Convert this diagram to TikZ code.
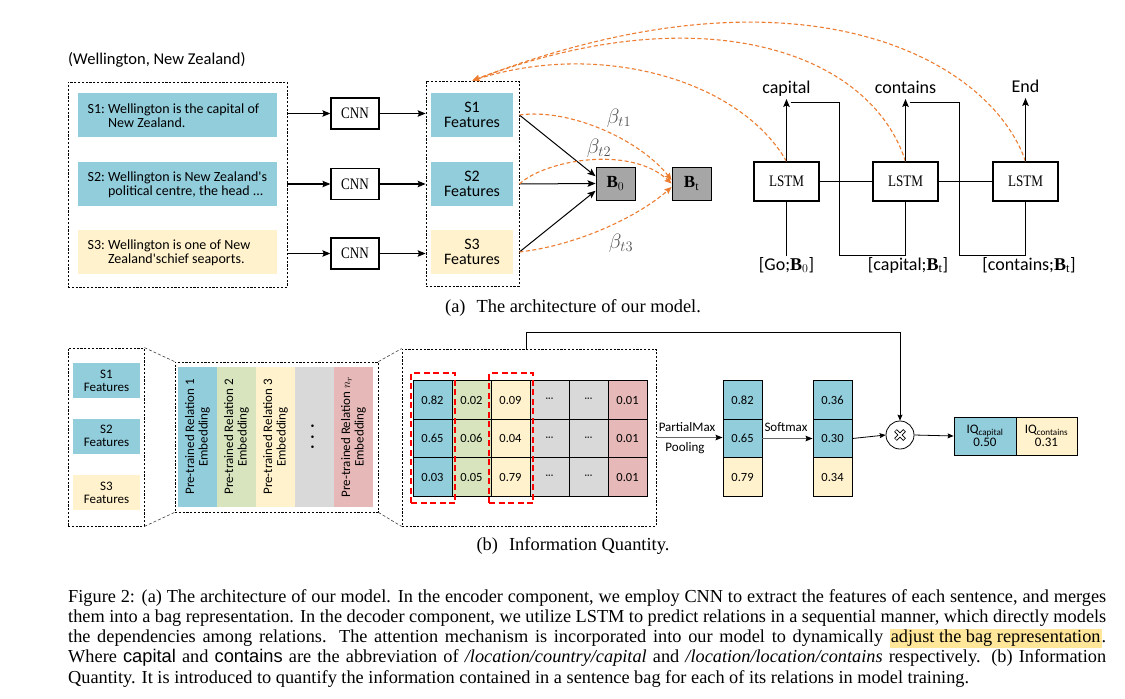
\documentclass[tikz,border=0pt]{standalone}
\usepackage{fontspec}
\setmainfont{Liberation Serif}
\newfontfamily\calfont{Carlito}
\newfontfamily\cnnfont[FakeStretch=0.82]{Liberation Serif}
\newfontfamily\helvfont{Liberation Sans}
\usetikzlibrary{arrows.meta}
\definecolor{cblue}{HTML}{92CDDC}
\definecolor{cyellow}{HTML}{FFF2CC}
\definecolor{cgreen}{HTML}{D7E4BD}
\definecolor{cgray}{HTML}{D9D9D9}
\definecolor{cpink}{HTML}{E6B9B8}
\definecolor{corange}{HTML}{ED7D31}
\definecolor{cred}{HTML}{FF0000}
\definecolor{bgray}{HTML}{A6A6A6}
\definecolor{hlyellow}{HTML}{FFE699}
\definecolor{betagray}{HTML}{505050}
\newcommand{\fsz}[2]{\fontsize{#1}{#2}\selectfont}
\newcommand{\mdts}{{\fsz{10}{10}\textperiodcentered\textperiodcentered\textperiodcentered}}
\tikzset{
 dbox/.style={draw, dash pattern=on 2.2pt off 1.6pt, line width=0.8pt, inner sep=0pt},
 sbox/.style={inner sep=0pt, minimum width=199pt, minimum height=44pt},
 stext/.style={anchor=west, inner sep=0pt, align=left, font=\calfont\frenchspacing\fsz{14}{14}},
 feat/.style={inner sep=0pt, minimum width=82pt, minimum height=44pt, align=center, font=\calfont\fsz{16}{14.5}},
 cnnbox/.style={draw, line width=1.3pt, minimum width=48pt, minimum height=31pt, inner sep=0pt, font=\cnnfont\fsz{16}{18}},
 lstmbox/.style={cnnbox, minimum width=65pt, minimum height=39pt},
 bbox/.style={draw, line width=0.9pt, fill=bgray, minimum width=39pt, minimum height=33pt, inner sep=0pt, font=\fsz{17}{18}},
 arr/.style={line width=1.2pt, -{Stealth[length=8pt,width=6.5pt,inset=1.5pt]}},
 farr/.style={line width=1pt, -{Stealth[length=8pt,width=6.5pt,inset=1.5pt]}},
 thickl/.style={line width=1.3pt},
 thinl/.style={line width=0.7pt},
 orng/.style={corange, line width=1.1pt, dash pattern=on 4pt off 2.5pt, -{Stealth[length=7pt,width=6pt,inset=1pt]}},
 lab/.style={inner sep=1pt, font=\calfont\fsz{18}{20}},
 betalab/.style={text=betagray, inner sep=0pt, font=\fsz{21}{22}},
 bfeat/.style={inner sep=0pt, minimum width=67pt, minimum height=35pt, align=center, font=\calfont\fsz{13}{13}},
 emb/.style={rotate=90, inner sep=0pt, minimum width=140pt, minimum height=39pt, align=center, font=\calfont\fsz{13}{13.5}},
 cell/.style={draw, line width=0.8pt, minimum width=39pt, minimum height=38.5pt, inner sep=0pt, font=\calfont\fsz{12.5}{14}},
 reddash/.style={draw=cred, line width=1.3pt, dash pattern=on 6pt off 3.5pt, minimum width=44pt, minimum height=130pt, inner sep=0pt},
 trap/.style={line width=0.6pt, dash pattern=on 3pt off 2pt, black!75},
 sarr/.style={line width=0.8pt, -{Stealth[length=6pt,width=5pt,inset=1pt]}},
 garr/.style={line width=1.1pt, black!60, -{Stealth[length=7pt,width=5.5pt,inset=1pt, black]}},
 slab/.style={inner sep=0pt, font=\calfont\fsz{13}{14}},
 iqbox/.style={draw, line width=0.8pt, minimum height=38pt, inner sep=0pt, align=center, font=\calfont\fsz{13}{13}},
 subcap/.style={anchor=base, inner sep=0pt, font=\fsz{18.4}{20}},
}
\begin{document}
\begin{tikzpicture}[x=1pt,y=-1pt]
\fill[white] (0,0) rectangle (1125,699);
\useasboundingbox (0,0) rectangle (1125,699);

% ---------------- (a) encoder ----------------
\node[anchor=west, inner sep=0pt, font=\calfont\fsz{16.5}{18}] (title) at (68,60) {(Wellington, New Zealand)};
\node[dbox, minimum width=219pt, minimum height=205pt] (bag) at (177.5,184.5) {};
\node[sbox, fill=cblue] (s1) at (177.5,115) {};
\node[sbox, fill=cblue] (s2) at (177.5,184) {};
\node[sbox, fill=cyellow] (s3) at (177.5,252) {};
\node[stext] (s1t) at (87.5,116) {S1: Wellington is the capital of\\\phantom{S1: }New Zealand.};
\node[stext] (s2t) at (87.5,185) {S2: Wellington is New Zealand\textquotesingle s\\\phantom{S2: }political centre, the head ...};
\node[stext] (s3t) at (87.5,253) {S3: Wellington is one of New\\\phantom{S3: }Zealand\textquotesingle schief seaports.};

\node[cnnbox] (c1) at (355,113.5) {CNN};
\node[cnnbox] (c2) at (355,184) {CNN};
\node[cnnbox] (c3) at (355,253.5) {CNN};

\node[dbox, minimum width=93pt, minimum height=205pt] (fbox) at (472.5,183.5) {};
\node[feat, fill=cblue] (f1) at (472,115) {S1\\Features};
\node[feat, fill=cblue] (f2) at (472,184) {S2\\Features};
\node[feat, fill=cyellow] (f3) at (472,252) {S3\\Features};

\node[bbox] (b0) at (615.5,183.5) {$\mathbf{B}_0$};
\node[bbox] (bt) at (691.5,183.5) {$\mathbf{B}_{\mathrm{t}}$};

\foreach \i in {1,2,3} {
  \draw[arr] (bag.east |- c\i.west) -- (c\i.west);
  \draw[arr] (c\i.east) -- (fbox.west |- c\i.east);
}
\draw[farr] (fbox.east |- f1.east) -- (b0.160);
\draw[farr] (fbox.east |- f2.east) -- (b0.west);
\draw[farr] (fbox.east |- f3.east) -- (b0.200);

\draw[orng] (fbox.east |- f1.east) .. controls (570,108) and (640,140) .. (bt.170);
\draw[orng] (fbox.east |- f2.east) .. controls (545,160) and (630,145) .. (bt.west);
\draw[orng] (fbox.east |- f3.east) .. controls (580,245) and (640,215) .. (bt.190);

\node[betalab] (beta1) at (619,118) {$\beta_{t1}$};
\node[betalab] (beta2) at (599,148) {$\beta_{t2}$};
\node[betalab] (beta3) at (621,243) {$\beta_{t3}$};

% ---------------- (a) decoder ----------------
\node[lstmbox] (l1) at (786.5,181.5) {LSTM};
\node[lstmbox] (l2) at (905.5,181.5) {LSTM};
\node[lstmbox] (l3) at (1025.5,181.5) {LSTM};

\node[lab, anchor=south, text depth=4pt] (o1) at (786.5,99) {capital};
\node[lab, anchor=south, text depth=4pt] (o2) at (905.5,99) {contains};
\node[lab, anchor=south, text depth=4pt] (o3) at (1025.5,98) {End};

\node[lab, anchor=north] (i1) at (786.5,256) {[Go;$\mathbf{B}_0$]};
\node[lab, anchor=north] (i2) at (908,256) {[capital;$\mathbf{B}_{\mathrm{t}}$]};
\node[lab, anchor=north] (i3) at (1029,256) {[contains;$\mathbf{B}_{\mathrm{t}}$]};

\draw[orng] (l1.north) .. controls (740,80) and (600,40) .. (fbox.north);
\draw[orng] (l2.north) .. controls (870,50) and (700,-5) .. (fbox.north);
\draw[orng] (l3.north) .. controls (990,58) and (800,-45) .. (fbox.north);

\draw[arr] (l1.north) -- (o1.south);
\draw[arr] (l2.north) -- (o2.south);
\draw[arr] (l3.north) -- (o3.south);
\draw[thickl] (l1.east) -- (l2.west);
\draw[thickl] (l2.east) -- (l3.west);
\draw[thickl] (l1.south) -- (i1.north);
\coordinate (k1) at (839,255);
\coordinate (k2) at (959,255);
\draw[thickl] (l2.south) -- (l2.south |- k1);
\draw[thickl] (l3.south) -- (l3.south |- k2);
\draw[thinl] (o1.south) ++(4,3) -| (k1) -- (l2.south |- k1);
\draw[thinl] (o2.south) ++(4,3) -| (k2) -- (l3.south |- k2);

\node[subcap] (capa) at (573,312) {(a)\hspace{0.6em}The architecture of our model.};

% ---------------- (b) ----------------
\node[dbox, minimum width=76pt, minimum height=178pt] (lb) at (106,437) {};
\node[bfeat, fill=cblue] (g1) at (106.5,380.5) {S1\\Features};
\node[bfeat, fill=cblue] (g2) at (106.5,436) {S2\\Features};
\node[bfeat, fill=cyellow] (g3) at (106.5,492.5) {S3\\Features};

\node[dbox, minimum width=203pt, minimum height=150pt] (eb) at (276.5,437) {};
\node[emb, fill=cblue] (e1) at (197.5,437) {Pre-trained Relation 1\\Embedding};
\node[emb, fill=cgreen] (e2) at (236.5,437) {Pre-trained Relation 2\\Embedding};
\node[emb, fill=cyellow] (e3) at (275.5,437) {Pre-trained Relation 3\\Embedding};
\node[emb, fill=cgray] (e4) at (314.5,437) {{\fsz{18}{18}\textperiodcentered\,\,\textperiodcentered\,\,\textperiodcentered}};
\node[emb, fill=cpink] (e5) at (353.5,437) {Pre-trained Relation $n_r$\\Embedding};

\node[dbox, minimum width=254pt, minimum height=177pt] (mb) at (529,437.5) {};

\draw[trap] (lb.north east) -- (eb.north west);
\draw[trap] (lb.south east) -- (eb.south west);
\draw[trap] (eb.north east) -- (mb.north west);
\draw[trap] (eb.south east) -- (mb.south west);

\foreach \c/\col/\a/\b/\d in {1/cblue/0.82/0.65/0.03, 2/cgreen/0.02/0.06/0.05, 3/cyellow/0.09/0.04/0.79, 4/cgray/\mdts/\mdts/\mdts, 5/cgray/\mdts/\mdts/\mdts, 6/cpink/0.01/0.01/0.01} {
  \node[cell, fill=\col] (m1\c) at ({393.5+39*\c},400) {\a};
  \node[cell, fill=\col] (m2\c) at ({393.5+39*\c},438.5) {\b};
  \node[cell, fill=\col] (m3\c) at ({393.5+39*\c},477) {\d};
}
\node[reddash] (rd1) at (433,438) {};
\node[reddash] (rd2) at (511,438) {};

\foreach \i/\col/\v/\w in {1/cblue/0.82/0.36, 2/cblue/0.65/0.30, 3/cyellow/0.79/0.34} {
  \node[cell, fill=\col] (p\i) at (742.5,{361.5+38.5*\i}) {\v};
  \node[cell, fill=\col] (q\i) at (832.5,{361.5+38.5*\i}) {\w};
}

\node[draw, circle, minimum size=28pt, inner sep=0pt, line width=0.8pt, fill=white] (ot) at (900,435) {};
\draw[line width=3.6pt] ([shift={(-4.5,-4.5)}]ot.center) -- ([shift={(4.5,4.5)}]ot.center);
\draw[line width=3.6pt] ([shift={(-4.5,4.5)}]ot.center) -- ([shift={(4.5,-4.5)}]ot.center);
\draw[line width=1.8pt, white] ([shift={(-4.1,-4.1)}]ot.center) -- ([shift={(4.1,4.1)}]ot.center);
\draw[line width=1.8pt, white] ([shift={(-4.1,4.1)}]ot.center) -- ([shift={(4.1,-4.1)}]ot.center);

\node[iqbox, fill=cblue, minimum width=62pt] (iq1) at (985,436) {IQ\textsubscript{capital}\\0.50};
\node[iqbox, fill=cyellow, minimum width=61pt] (iq2) at (1046.5,436) {IQ\textsubscript{contains}\\0.31};

\coordinate (tl) at (526,332);
\draw[sarr] (tl |- mb.north) -- (tl) -| (ot.north);
\draw[garr] (mb.east) -- (mb.east -| p2.west);
\node[slab] (pm) at (687,427) {PartialMax};
\node[slab] (po) at (685,448) {Pooling};
\draw[garr] (p2.east) -- (q2.west);
\node[slab] (sm) at (786,427) {Softmax};
\draw[sarr] (q2.east) -- (ot.west);
\draw[sarr] (ot.east) -- (iq1.west);

\node[subcap] (capb) at (573,550) {(b)\hspace{0.6em}Information Quantity.};

% ---------------- caption ----------------
\node[anchor=base west, inner sep=0pt, text width=1038pt, align=justify, font=\fsz{18.3}{20.3}] (cap) at (68,602) {\noindent Figure 2: (a) The architecture of our model. In the encoder component, we employ CNN to extract the features of each sentence, and merges\linebreak
them into a bag representation. In the decoder component, we utilize LSTM to predict relations in a sequential manner, which directly models\linebreak
the dependencies among relations. The attention mechanism is incorporated into our model to dynamically {\fboxsep=1pt\colorbox{hlyellow}{adjust the bag representation}}.\linebreak
Where {\helvfont capital} and {\helvfont contains} are the abbreviation of \textit{/location/country/capital} and \textit{/location/location/contains} respectively. (b) Information\linebreak
Quantity. It is introduced to quantify the information contained in a sentence bag for each of its relations in model training.};
\end{tikzpicture}
\end{document}
